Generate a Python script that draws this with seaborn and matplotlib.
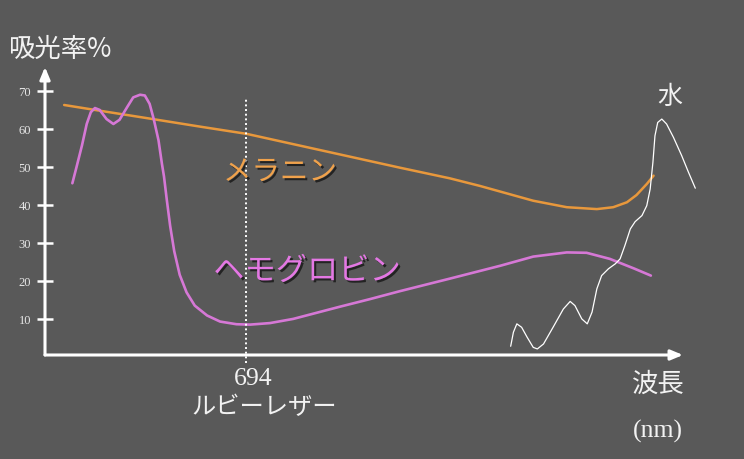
import matplotlib
matplotlib.use("Agg")
import matplotlib.pyplot as plt
import matplotlib.patheffects as pe
import pandas as pd
import seaborn as sns

# wavelength (nm, schematic scale) and absorbance (%)
wl_melanin = [428, 480, 554, 627, 695, 773, 846, 919, 992, 1036, 1066, 1114,
              1163, 1207, 1231, 1251, 1265, 1280, 1290]
abs_melanin = [66.3, 64.8, 62.7, 60.6, 58.7, 55.6, 52.7, 49.8, 47.0, 45.0, 43.5, 41.1,
               39.4, 38.9, 39.4, 40.7, 42.6, 45.5, 47.7]

wl_hemo = [440, 446, 454, 461, 467, 473, 480, 490, 500, 509, 520, 529, 539, 546, 553,
           559, 566, 571, 574, 578, 583, 589, 597, 607, 619, 637, 656, 680, 700, 729,
           763, 797, 831, 875, 919, 992, 1066, 1114, 1163, 1192, 1226, 1261, 1286]
abs_hemo = [45.7, 49.9, 55.6, 61.3, 64.4, 65.5, 65.0, 62.6, 61.3, 62.4, 65.7, 68.3,
            69.0, 68.8, 66.6, 62.6, 57.0, 50.8, 47.5, 41.5, 34.5, 27.8, 21.6, 17.0,
            13.5, 10.9, 9.3, 8.6, 8.5, 8.9, 10.0, 11.6, 13.2, 15.2, 17.3, 20.6, 24.0,
            26.4, 27.5, 27.4, 25.8, 23.3, 21.4]

wl_water = [1081, 1085, 1090, 1097, 1105, 1114, 1120, 1129, 1143, 1158, 1168, 1175,
            1185, 1193, 1200, 1207, 1214, 1224, 1234, 1241, 1248, 1256, 1263, 1273,
            1280, 1285, 1289, 1292, 1296, 1302, 1309, 1319, 1331, 1341, 1351]
abs_water = [2.8, 6.5, 8.7, 7.8, 5.2, 2.5, 2.1, 3.4, 7.8, 12.6, 14.6, 13.5,
             10.0, 8.7, 11.8, 17.9, 21.4, 23.2, 24.5, 25.8, 29.3, 33.7, 35.6, 37.2,
             39.8, 44.2, 51.2, 58.2, 61.7, 62.6, 61.3, 57.8, 53.0, 48.6, 44.4]

y_ticks = [10, 20, 30, 40, 50, 60, 70]
ruby_nm = 694

bg = "#595959"
sns.set_theme(style="dark", rc={"figure.facecolor": bg, "axes.facecolor": bg})
plt.rcParams['font.family'] = ['Noto Sans CJK JP', 'DejaVu Sans']

fig = plt.figure(figsize=(7.44, 4.60), dpi=100)
ax = fig.add_axes([45 / 744, 104 / 460, 638 / 744, 288 / 460])
ax.set_xlim(400, 1333)
ax.set_ylim(0.5, 76.3)

df_m = pd.DataFrame({"wl": wl_melanin, "abs": abs_melanin})
df_h = pd.DataFrame({"wl": wl_hemo, "abs": abs_hemo})
df_w = pd.DataFrame({"wl": wl_water, "abs": abs_water})

sns.lineplot(data=df_m, x="wl", y="abs", ax=ax, color="#e8983c", lw=1.8,
             estimator=None, sort=False)
sns.lineplot(data=df_h, x="wl", y="abs", ax=ax, color="#d678d6", lw=1.9,
             estimator=None, sort=False)
sns.lineplot(data=df_w, x="wl", y="abs", ax=ax, color="white", lw=0.9,
             estimator=None, sort=False)
for ln in ax.lines:
    ln.set_clip_on(False)
    ln.set_solid_joinstyle("round")
    ln.set_solid_capstyle("round")

# ruby laser marker
ax.plot([ruby_nm, ruby_nm], [-1.5, 68], color="white", lw=1.4,
        linestyle=(0, (1, 1.4)), clip_on=False)

# axes with arrows
for sp in ax.spines.values():
    sp.set_visible(False)
arrow = dict(arrowstyle="-|>,head_length=0.6,head_width=0.25", color="white", lw=2.2,
             shrinkA=0, shrinkB=0)
ax.annotate("", xy=(1, 0), xytext=(0, 0), xycoords="axes fraction", arrowprops=arrow)
ax.annotate("", xy=(0, 1), xytext=(0, 0), xycoords="axes fraction", arrowprops=arrow)

ax.set_xticks([])
ax.set_yticks(y_ticks)
ax.set_yticklabels([str(t) for t in y_ticks], family=["Liberation Serif"],
                   fontsize=9, color="#e6e6e6")
ax.tick_params(axis="y", direction="inout", length=12, width=1.8, color="white",
               pad=4, left=True)
ax.set_xlabel("")
ax.set_ylabel("")
ax.grid(False)


def px(x, y):
    return x / 744, 1 - y / 460


fig.text(*px(8, 49), "吸光率%", fontsize=19, color="#f2f2f2", ha="left", va="center")
fig.text(*px(670, 97), "水", fontsize=18, color="#f2f2f2", ha="center", va="center")
fig.text(*px(658, 384), "波長", fontsize=19, color="#f2f2f2", ha="center", va="center")
fig.text(*px(658, 431), "(nm)", fontsize=18.5, color="#f2f2f2", ha="center",
         va="center", family=["Liberation Serif"])
fig.text(*px(253, 379), str(ruby_nm), fontsize=18.5, color="#f2f2f2", ha="center",
         va="center", family=["Liberation Serif"])
fig.text(*px(264, 407), "ルビーレザー", fontsize=17.5, color="#f2f2f2", ha="center",
         va="center")

shadow = [pe.withSimplePatchShadow(offset=(1.5, -1.5), shadow_rgbFace="black", alpha=0.6)]
fig.text(*px(280, 173), "メラニン", fontsize=20.5, color="#f0a24c", ha="center",
         va="center", path_effects=shadow)
fig.text(*px(307, 272), "ヘモグロビン", fontsize=22.5, color="#e478e4", ha="center",
         va="center", path_effects=shadow)

fig.savefig("out.png", dpi=100, facecolor=bg)
